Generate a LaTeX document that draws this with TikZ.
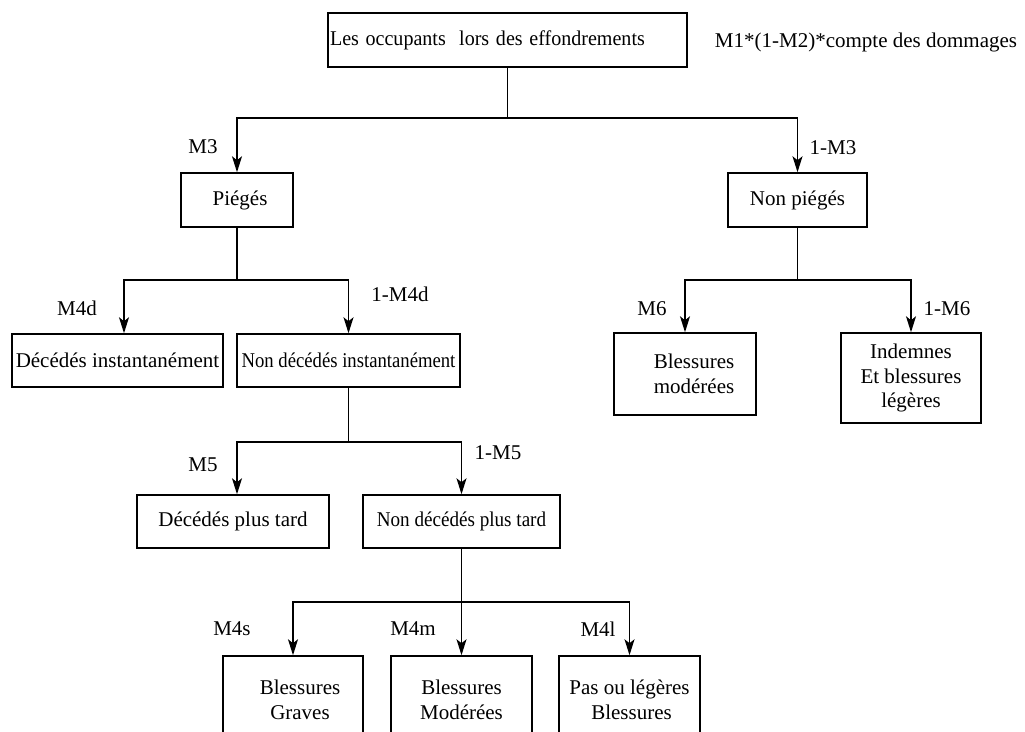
\documentclass[tikz,border=0pt]{standalone}
\usepackage{fontspec}
\setmainfont{Liberation Serif}
\usetikzlibrary{arrows.meta}
\newcommand{\squeeze}[2]{\scalebox{#1}[1]{#2}}
\begin{document}
\begin{tikzpicture}[x=1pt,y=-1pt,
  every node/.style={font=\fontsize{21}{24.5}\selectfont, inner sep=0pt},
  box/.style={draw, line width=1.5pt, rectangle, align=center},
  lbl/.style={},
  link/.style={line width=1.5pt},
  arr/.style={line width=1.5pt, -{Stealth[length=16pt,width=10pt,inset=4pt]}}]
\useasboundingbox (0,0) rectangle (1025,731);
\clip (0,0) rectangle (1025,731);

% boxes
\node[box, minimum width=359pt, minimum height=54pt, text width=359pt, align=left] (top) at (507.5,40) {\hspace*{2pt}\squeeze{0.955}{Les occupants\ \ lors des effondrements}};
\node (formula) at (866,42) {M1*(1-M2)*compte des dommages};

\node[box, minimum width=112pt, minimum height=54pt] (piege) at (237,200) {\hspace*{6pt}Piégés};
\node[box, minimum width=139pt, minimum height=54pt] (npiege) at (797.5,200) {Non piégés};

\node[box, minimum width=211pt, minimum height=53pt] (dinst) at (117.5,360.5) {Décédés instantanément};
\node[box, minimum width=223pt, minimum height=53pt] (ndinst) at (348.5,360.5) {\squeeze{0.89}{Non décédés instantanément}};

\node[box, minimum width=142pt, minimum height=82pt] (bmod) at (685,374) {\hspace*{18pt}Blessures\\\hspace*{18pt}modérées};
\node[box, minimum width=140pt, minimum height=90pt] (indem) at (911,378) {Indemnes\\Et blessures\\légères};

\node[box, minimum width=192pt, minimum height=53pt] (dtard) at (233,521.5) {Décédés plus tard};
\node[box, minimum width=197pt, minimum height=53pt] (ndtard) at (461.5,521.5) {\squeeze{0.91}{Non décédés plus tard}};

\node[box, minimum width=140pt, minimum height=88pt] (bgrav) at (293,700) {\hspace*{14pt}Blessures\\\hspace*{14pt}Graves};
\node[box, minimum width=141pt, minimum height=88pt] (bmodb) at (461.5,700) {Blessures\\Modérées};
\node[box, minimum width=141pt, minimum height=88pt] (pasleg) at (629.5,700) {Pas ou légères\\\hspace*{4pt}Blessures};

% bus levels
\coordinate (bus1) at (0,118);
\coordinate (bus2) at (0,280);
\coordinate (bus3) at (0,442);
\coordinate (bus4) at (0,602);

% connectors
\draw[link] (top.south) -- (top.south |- bus1);
\draw[arr] (top.south |- bus1) -| (piege.north);
\draw[arr] (top.south |- bus1) -| (npiege.north);

\draw[link] (piege.south) -- (piege.south |- bus2);
\draw[arr] (piege.south |- bus2) -| (dinst.north -| 124,0);
\draw[arr] (piege.south |- bus2) -| (ndinst.north);

\draw[link] (npiege.south) -- (npiege.south |- bus2);
\draw[arr] (npiege.south |- bus2) -| (bmod.north);
\draw[arr] (npiege.south |- bus2) -| (indem.north);

\draw[link] (ndinst.south) -- (ndinst.south |- bus3);
\draw[arr] (ndinst.south |- bus3) -| (dtard.north -| 237,0);
\draw[arr] (ndinst.south |- bus3) -| (ndtard.north);

\draw[arr] (ndtard.south) -- (bmodb.north);
\draw[arr] (ndtard.south |- bus4) -| (bgrav.north);
\draw[arr] (ndtard.south |- bus4) -| (pasleg.north);

% branch labels
\node[lbl] (lm3) at (203,147) {M3};
\node[lbl] (l1m3) at (833,148) {1-M3};
\node[lbl] (lm4d) at (77,308) {M4d};
\node[lbl] (l1m4d) at (400,294) {1-M4d};
\node[lbl] (lm6) at (652,309) {M6};
\node[lbl] (l1m6) at (947,309) {1-M6};
\node[lbl] (lm5) at (203,465) {M5};
\node[lbl] (l1m5) at (498,453) {1-M5};
\node[lbl] (lm4s) at (232,629) {M4s};
\node[lbl] (lm4m) at (413,629) {M4m};
\node[lbl] (lm4l) at (598,629) {M4l};
\end{tikzpicture}
\end{document}
